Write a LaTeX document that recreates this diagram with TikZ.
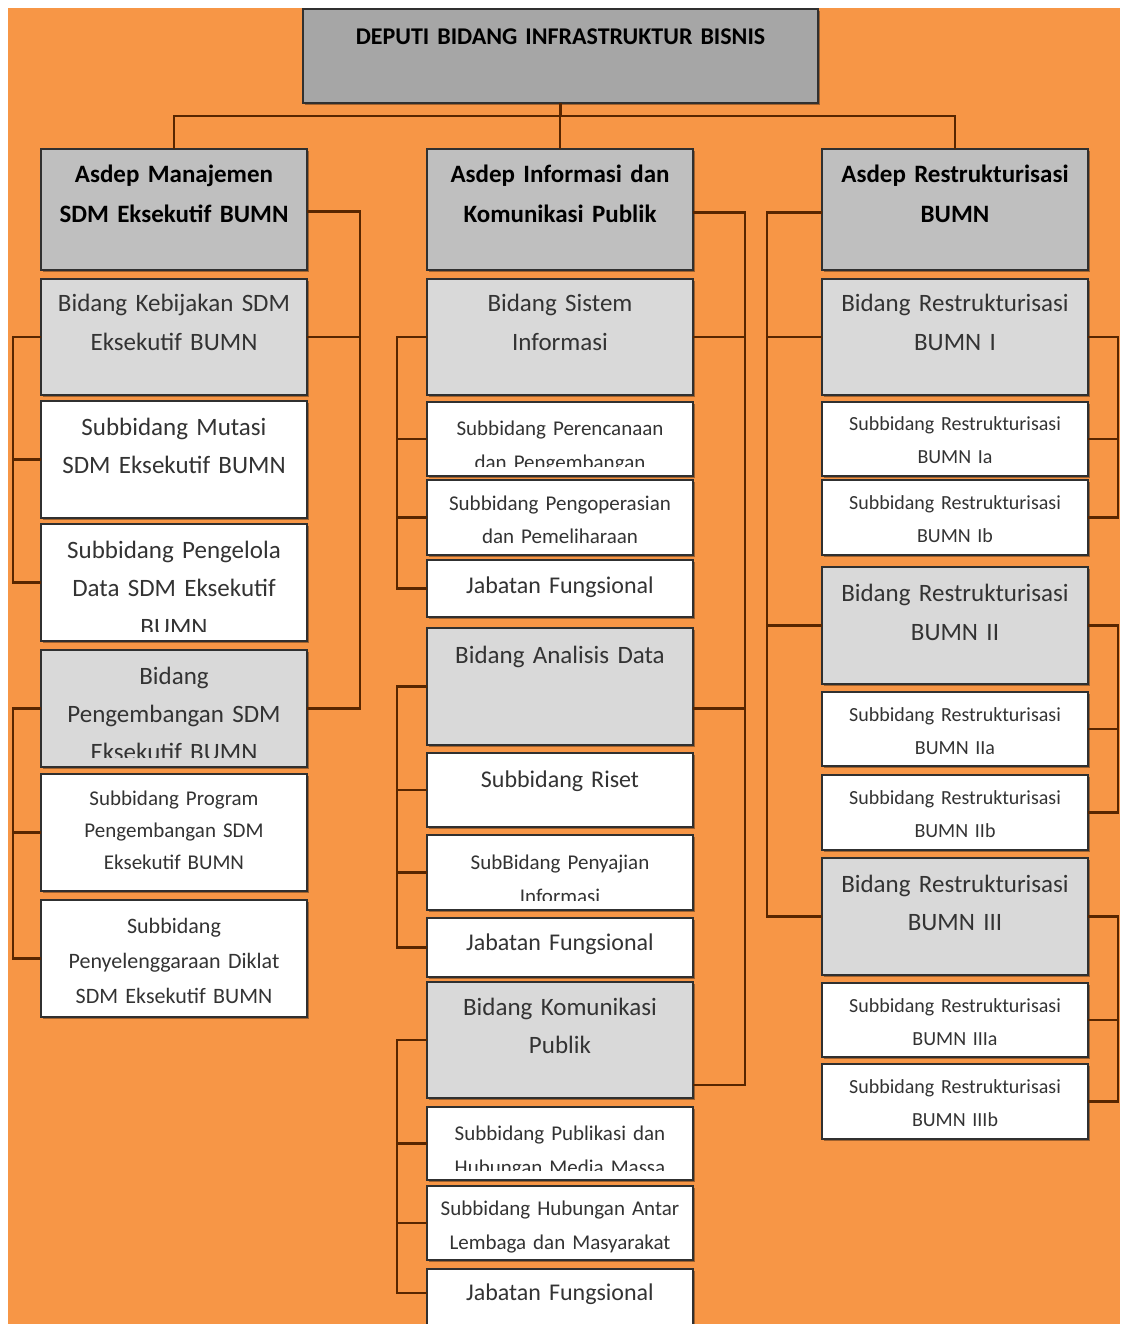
\documentclass[tikz,border=0pt]{standalone}
\usepackage{fontspec}
\setmainfont{Carlito}
\usetikzlibrary{shadows}
\definecolor{bgorange}{HTML}{F79646}
\definecolor{lnbrown}{RGB}{88,38,0}
\definecolor{ttlgray}{HTML}{A6A6A6}
\definecolor{asdgray}{HTML}{BFBFBF}
\definecolor{bidgray}{HTML}{D9D9D9}
\definecolor{txtgray}{HTML}{333333}
\definecolor{bordergray}{HTML}{303030}
\tikzset{
  boxbase/.style={draw=bordergray, line width=1.3pt, inner sep=0pt, outer sep=0pt,
    drop shadow={shadow xshift=1.6pt, shadow yshift=-1.6pt, fill=black, opacity=.35}},
  topbox/.style={boxbase, fill=ttlgray},
  asdbox/.style={boxbase, fill=asdgray},
  bidbox/.style={boxbase, fill=bidgray},
  subbox/.style={boxbase, fill=white},
  fnt/.style 2 args={font=\fontsize{#1}{#2}\selectfont, text=txtgray},
  fntb/.style 2 args={font=\fontsize{#1}{#2}\selectfont\bfseries, text=black},
  conn/.style={draw=lnbrown, line width=2.6pt}
}
% name, x1, y1, x2, y2, box style, font style, baseline offset, text
\newcommand\orgbox[9]{%
  \pgfmathsetmacro\obw{#4-#2}\pgfmathsetmacro\obh{#5-#3}%
  \pgfmathsetmacro\obx{(#2+#4)/2}\pgfmathsetmacro\oby{(#3+#5)/2}%
  \pgfmathsetmacro\obt{#4-#2-8}%
  \node[#6, minimum width=\obw pt, minimum height=\obh pt] (#1) at (\obx,\oby) {};
  \begin{scope}
    \clip (#2,#3) rectangle (#4,#5-2);
    \node[#7, text width=\obt pt, align=center, anchor=base, inner sep=0pt] (#1t) at ([yshift=-#8pt]#1.north) {#9};
  \end{scope}}
\newcommand\orgboxc[9]{%
  \pgfmathsetmacro\obw{#4-#2}\pgfmathsetmacro\obh{#5-#3}%
  \pgfmathsetmacro\obx{(#2+#4)/2}\pgfmathsetmacro\oby{(#3+#5)/2}%
  \pgfmathsetmacro\obt{#4-#2-8}%
  \node[#6, minimum width=\obw pt, minimum height=\obh pt] (#1) at (\obx,\oby) {};
  \begin{scope}
    \clip (#2,#3) rectangle (#4,#5-10);
    \node[#7, text width=\obt pt, align=center, anchor=base, inner sep=0pt] (#1t) at ([yshift=-#8pt]#1.north) {#9};
  \end{scope}}
\begin{document}
\begin{tikzpicture}[x=1pt, y=-1pt]
\clip (0,0) rectangle (1120,1324);
\fill[white] (0,0) rectangle (1120,1324);
\fill[bgorange] (8,8) rectangle (1120,1324);

% title
\orgbox{top}{303}{9}{818}{103}{topbox}{fntb={24}{30}}{36}{DEPUTI BIDANG INFRASTRUKTUR BISNIS}

% column 1
\orgbox{a1}{41}{149}{307}{270}{asdbox}{fntb={25}{40}}{34}{Asdep Manajemen\\SDM Eksekutif BUMN}
\orgbox{b11}{41}{279}{307}{395}{bidbox}{fnt={25}{39}}{32}{Bidang Kebijakan SDM\\Eksekutif BUMN}
\orgbox{s11}{41}{401}{307}{518}{subbox}{fnt={25}{38}}{34}{Subbidang Mutasi\\SDM Eksekutif BUMN}
\orgboxc{s12}{41}{524}{307}{641}{subbox}{fnt={25}{38.5}}{34}{Subbidang Pengelola\\Data SDM Eksekutif\\BUMN}
\orgboxc{b12}{41}{650}{307}{767}{bidbox}{fnt={25}{38}}{34}{Bidang\\Pengembangan SDM\\Eksekutif BUMN}
\orgbox{s13}{41}{774}{307}{891}{subbox}{fnt={21}{32}}{31}{Subbidang Program\\Pengembangan SDM\\Eksekutif BUMN}
\orgbox{s14}{41}{900}{307}{1017}{subbox}{fnt={22}{35}}{33}{Subbidang\\Penyelenggaraan Diklat\\SDM Eksekutif BUMN}

% column 2
\orgbox{a2}{427}{149}{693}{270}{asdbox}{fntb={25}{40}}{34}{Asdep Informasi dan\\Komunikasi Publik}
\orgbox{b21}{427}{279}{693}{395}{bidbox}{fnt={25}{39}}{32}{Bidang Sistem\\Informasi}
\orgboxc{s21}{427}{402}{693}{476}{subbox}{fnt={21}{34}}{33}{Subbidang Perencanaan\\dan Pengembangan}
\orgbox{s22}{427}{480}{693}{555}{subbox}{fnt={21}{33}}{30}{Subbidang Pengoperasian\\dan Pemeliharaan}
\orgbox{s23}{427}{560}{693}{617}{subbox}{fnt={24}{30}}{33}{Jabatan Fungsional}
\orgbox{b22}{427}{628}{693}{745}{bidbox}{fnt={25}{39}}{35}{Bidang Analisis Data}
\orgbox{s24}{427}{753}{693}{827}{subbox}{fnt={24}{30}}{34}{Subbidang Riset}
\orgboxc{s25}{427}{835}{693}{910}{subbox}{fnt={21}{34}}{34}{SubBidang Penyajian\\Informasi}
\orgbox{s26}{427}{918}{693}{977}{subbox}{fnt={24}{30}}{32}{Jabatan Fungsional}
\orgbox{b23}{427}{982}{693}{1098}{bidbox}{fnt={25}{38}}{33}{Bidang Komunikasi\\Publik}
\orgboxc{s27}{427}{1107}{693}{1180}{subbox}{fnt={21}{34}}{33}{Subbidang Publikasi dan\\Hubungan Media Massa}
\orgbox{s28}{427}{1186}{693}{1260}{subbox}{fnt={21}{34}}{29}{Subbidang Hubungan Antar\\Lembaga dan Masyarakat}
\orgbox{s29}{427}{1269}{693}{1332}{subbox}{fnt={24}{30}}{31}{Jabatan Fungsional}

% column 3
\orgbox{a3}{822}{149}{1088}{270}{asdbox}{fntb={25}{40}}{34}{Asdep Restrukturisasi\\BUMN}
\orgbox{b31}{822}{279}{1088}{395}{bidbox}{fnt={25}{39}}{32}{Bidang Restrukturisasi\\BUMN I}
\orgbox{s31}{822}{402}{1088}{476}{subbox}{fnt={20}{33}}{28.5}{Subbidang Restrukturisasi\\BUMN Ia}
\orgbox{s32}{822}{480}{1088}{555}{subbox}{fnt={20}{33}}{29.5}{Subbidang Restrukturisasi\\BUMN Ib}
\orgbox{b32}{822}{567}{1088}{684}{bidbox}{fnt={25}{39}}{34}{Bidang Restrukturisasi\\BUMN II}
\orgbox{s33}{822}{692}{1088}{766}{subbox}{fnt={20}{33}}{29.5}{Subbidang Restrukturisasi\\BUMN IIa}
\orgbox{s34}{822}{775}{1088}{850}{subbox}{fnt={20}{33}}{29.5}{Subbidang Restrukturisasi\\BUMN IIb}
\orgbox{b33}{822}{858}{1088}{975}{bidbox}{fnt={25}{38}}{34}{Bidang Restrukturisasi\\BUMN III}
\orgbox{s35}{822}{983}{1088}{1057}{subbox}{fnt={20}{33}}{29.5}{Subbidang Restrukturisasi\\BUMN IIIa}
\orgbox{s36}{822}{1064}{1088}{1139}{subbox}{fnt={20}{33}}{29.5}{Subbidang Restrukturisasi\\BUMN IIIb}

% guide coordinates
\coordinate (bus) at (561,116);
\coordinate (r1) at (360,0);
\coordinate (l1) at (13,0);
\coordinate (r2) at (745,0);
\coordinate (l2) at (397,0);
\coordinate (l3) at (767,0);
\coordinate (r3) at (1118,0);
\coordinate (b22e) at ([yshift=-22pt]b22.east);
\coordinate (b23e) at ([yshift=-45pt]b23.east);
\coordinate (s29w) at ([yshift=7.5pt]s29.west);

% top connectors
\draw[conn] (top.south) -- (top.south |- bus);
\draw[conn] (a1.north) -- (a1.north |- bus) -- (a3.north |- bus) -- (a3.north);
\draw[conn] (a2.north) -- (a2.north |- bus);

% column 1
\draw[conn] ([yshift=-2pt]a1.east) -| (r1 |- b12.east) -- (b12.east);
\draw[conn] (r1 |- b11.east) -- (b11.east);
\draw[conn] (b11.west) -| (l1 |- s12.west) -- (s12.west);
\draw[conn] (l1 |- s11.west) -- (s11.west);
\draw[conn] (b12.west) -| (l1 |- s14.west) -- (s14.west);
\draw[conn] (l1 |- s13.west) -- (s13.west);

% column 2
\draw[conn] ([yshift=-3pt]a2.east) -| (r2 |- b23e) -- (b23e);
\draw[conn] (r2 |- b21.east) -- (b21.east);
\draw[conn] (r2 |- b22e) -- (b22e);
\draw[conn] (b21.west) -| (l2 |- s23.west) -- (s23.west);
\draw[conn] (l2 |- s21.west) -- (s21.west);
\draw[conn] (l2 |- s22.west) -- (s22.west);
\draw[conn] (b22.west) -| (l2 |- s26.west) -- (s26.west);
\draw[conn] (l2 |- s24.west) -- (s24.west);
\draw[conn] (l2 |- s25.west) -- (s25.west);
\draw[conn] (b23.west) -| (l2 |- s29w) -- (s29w);
\draw[conn] (l2 |- s27.west) -- (s27.west);
\draw[conn] (l2 |- s28.west) -- (s28.west);

% column 3
\draw[conn] ([yshift=-3pt]a3.west) -| (l3 |- b33.west) -- (b33.west);
\draw[conn] (l3 |- b31.west) -- (b31.west);
\draw[conn] (l3 |- b32.west) -- (b32.west);
\draw[conn] (b31.east) -| (r3 |- s32.east) -- (s32.east);
\draw[conn] (r3 |- s31.east) -- (s31.east);
\draw[conn] (b32.east) -| (r3 |- s34.east) -- (s34.east);
\draw[conn] (r3 |- s33.east) -- (s33.east);
\draw[conn] (b33.east) -| (r3 |- s36.east) -- (s36.east);
\draw[conn] (r3 |- s35.east) -- (s35.east);
\end{tikzpicture}
\end{document}
